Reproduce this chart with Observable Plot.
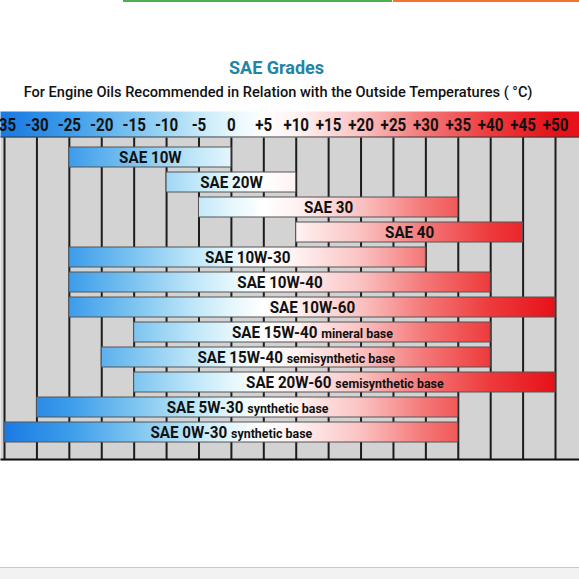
<!DOCTYPE html>
<html>
<head>
<meta charset="utf-8">
<script src="https://cdn.jsdelivr.net/npm/d3@7"></script>
<script src="https://cdn.jsdelivr.net/npm/@observablehq/plot@0.6"></script>
<style>
  html, body { margin: 0; padding: 0; background: #fff; }
  body { width: 579px; height: 579px; position: relative; overflow: hidden; font-family: Roboto, "Noto Sans", sans-serif; }
  .deco-green { position: absolute; left: 123px; top: 0; width: 269px; height: 2px; background: #4caf50; }
  .deco-orange { position: absolute; left: 393px; top: 0; width: 186px; height: 2px; background: #f5732a; }
  .title { position: absolute; left: 0; width: 553px; top: 57px; line-height: 22px; text-align: center; font-size: 18px; font-weight: 700; color: #2584a3; }
  .subtitle { position: absolute; left: 0; width: 556px; top: 83px; line-height: 18px; text-align: center; font-size: 14.6px; font-weight: 500; color: #111; }
  #chart { position: absolute; left: 0; top: 100px; }
  .footer { position: absolute; left: 0; top: 567px; width: 579px; height: 12px; border-top: 1px solid #c8c8c8; background: #f2f2f2; }
</style>
</head>
<body>
<div class="deco-green"></div>
<div class="deco-orange"></div>
<div class="title">SAE Grades</div>
<div class="subtitle">For Engine Oils Recommended in Relation with the Outside Temperatures ( °C)</div>
<svg width="0" height="0" style="position:absolute">
  <defs>
    <linearGradient id="tempGrad" gradientUnits="userSpaceOnUse" x1="0" y1="0" x2="579" y2="0"></linearGradient>
  </defs>
</svg>
<div id="chart"></div>
<div class="footer"></div>
<script>
// ---- data ----
const grades = [
  "SAE 10W", "SAE 20W", "SAE 30", "SAE 40",
  "SAE 10W-30", "SAE 10W-40", "SAE 10W-60",
  "SAE 15W-40", "SAE 15W-40 ", "SAE 20W-60",
  "SAE 5W-30", "SAE 0W-30"
];
const suffixes = [
  "", "", "", "",
  "", "", "",
  "mineral base", "semisynthetic base", "semisynthetic base",
  "synthetic base", "synthetic base"
];
const minTemp = [-25, -10, -5, 10, -25, -25, -25, -15, -20, -15, -30, -35];
const maxTemp = [0, 10, 35, 45, 30, 40, 50, 40, 40, 50, 35, 35];
const tickValues = [-35, -30, -25, -20, -15, -10, -5, 0, 5, 10, 15, 20, 25, 30, 35, 40, 45, 50];
const tickLabels = ["-35", "-30", "-25", "-20", "-15", "-10", "-5", "0", "+5", "+10", "+15", "+20", "+25", "+30", "+35", "+40", "+45", "+50"];

// ---- style config ----
const xDomain = [-35.62, 53.7];
const gradTemps  = [-35, -25, -15, -5, 0, 5, 10, 20, 30, 40, 50];
const gradColors = ["#1a7ae2", "#3c9ceb", "#7cc4f0", "#c4e9f9", "#e4f6fc", "#ffffff", "#fff2f2", "#fbc2c2", "#f47676", "#ee3a3c", "#e61119"];

const rows = grades.map((g, i) => ({grade: g, lo: minTemp[i], hi: maxTemp[i], main: g.trim(), suffix: suffixes[i]}));
const ticks = tickValues.map((v, i) => ({v, label: tickLabels[i]}));

const W = 579, H = 365;
const chart = Plot.plot({
  width: W, height: H,
  marginTop: 11, marginBottom: 5, marginLeft: 0, marginRight: 0,
  x: {domain: xDomain, axis: null},
  y: {domain: grades, range: [40.2, 349.2], paddingInner: 0.22, paddingOuter: 0.11, axis: null},
  style: {background: "transparent"},
  marks: [
    Plot.frame({fill: "#d3d3d3", stroke: null, insetTop: 26}),
    Plot.ruleX(tickValues, {stroke: "#1c1c1c", strokeWidth: 2, insetTop: 26}),
    Plot.barX(rows, {x1: "lo", x2: "hi", y: "grade", fill: "url(#tempGrad)", stroke: "#555", strokeWidth: 1}),
    Plot.text(rows, {x: d => (d.lo + d.hi) / 2, y: "grade", text: d => d.suffix ? d.main + " " + d.suffix : d.main,
      fontSize: 16.5, fontWeight: 700, fill: "#111", fontFamily: "Roboto, sans-serif"}),
    Plot.frame({fill: "url(#tempGrad)", stroke: null, insetBottom: 323}),
    Plot.frame({fill: "#3a3a3a", stroke: null, insetTop: 25, insetBottom: 323}),
    Plot.frame({fill: "#111", stroke: null, insetTop: 347}),
    Plot.text(ticks, {x: "v", text: "label", frameAnchor: "top", lineAnchor: "middle", dy: 13.5,
      fontSize: 18.5, fontWeight: 700, fill: "#111", fontFamily: "Roboto, sans-serif"})
  ]
});
document.getElementById("chart").appendChild(chart);

// gradient stops positioned through the x scale
const xs = chart.scale("x");
const xOf = t => xs.apply ? xs.apply(t) : (t - xDomain[0]) / (xDomain[1] - xDomain[0]) * W;
const grad = d3.select("#tempGrad");
gradTemps.forEach((t, i) => {
  grad.append("stop").attr("offset", (xOf(t) / W).toFixed(4)).attr("stop-color", gradColors[i]);
});

// condense text horizontally (reference uses a condensed face)
function condense(el, k) {
  const tr = el.getAttribute("transform");
  if (tr) el.setAttribute("transform", tr + ` scale(${k},1)`);
}

d3.select(chart).selectAll("text").each(function() {
  const txt = this.textContent;
  if (tickLabels.includes(txt)) { condense(this, 0.82); return; }
  const row = rows.find(r => txt === (r.suffix ? r.main + " " + r.suffix : r.main));
  if (!row) return;
  condense(this, 0.92);
  if (row.suffix) {
    const el = d3.select(this);
    el.text(null);
    el.append("tspan").text(row.main + " ");
    el.append("tspan").attr("font-size", 13.5).text(row.suffix);
  }
});
</script>
</body>
</html>
